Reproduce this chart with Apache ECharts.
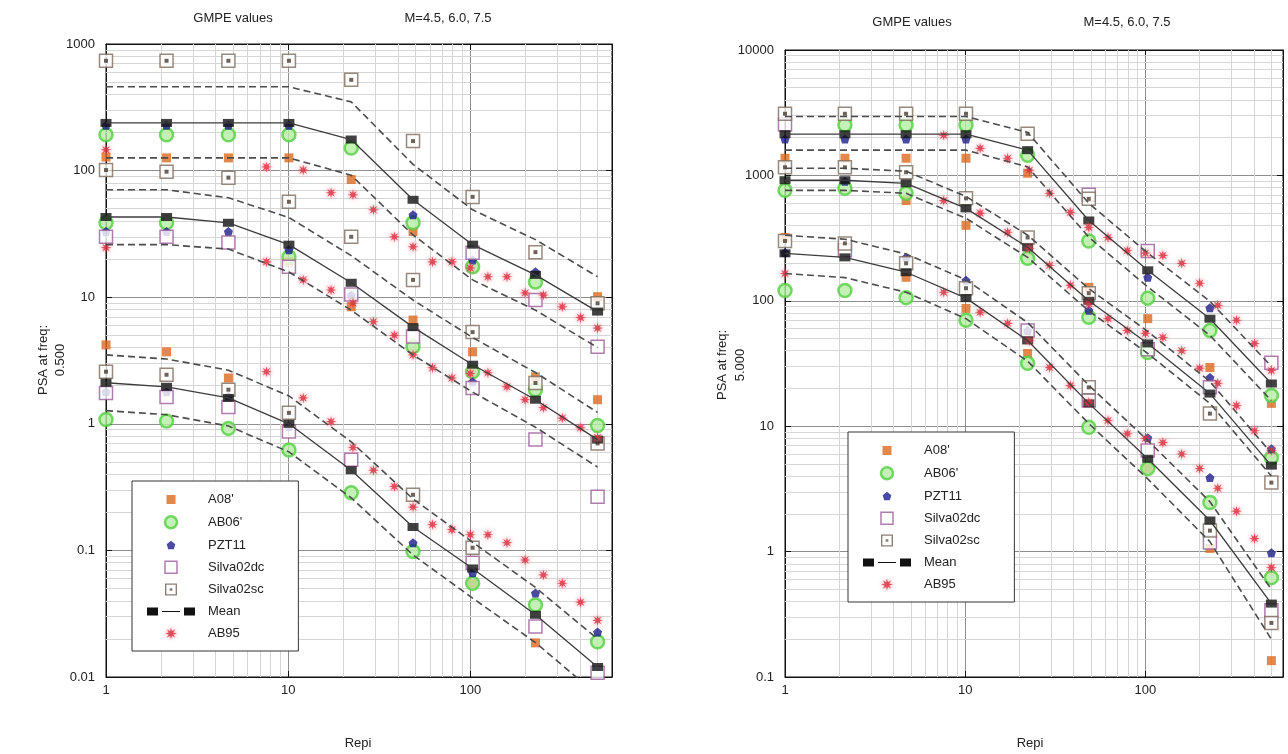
<!DOCTYPE html>
<html>
<head>
<meta charset="utf-8">
<script src="https://cdn.jsdelivr.net/npm/echarts@6/dist/echarts.min.js"></script>
<style>
  html, body { margin: 0; padding: 0; background: #fff; }
  #chart { width: 1288px; height: 754px; }
</style>
</head>
<body>
<div id="chart"></div>
<script>
// Epicentral distances (km) at which the GMPEs are evaluated
const distances = [1, 2.15, 4.7, 10.1, 22.2, 48.5, 103, 228, 500];
// AB95 is evaluated on its own distance list
const ab95Distances = [1, 7.6, 12.1, 17.2, 22.7, 29.4, 38.3, 48.5, 62, 79.3, 100, 125, 159, 200, 252, 320, 403, 500];

// ---- PSA at 0.500 Hz; rows are M7.5, M6.0, M4.5 ----
const f05_A08 = [
  [128, 126, 126, 126, 85, 33, null, null, 10.1],
  [null, null, null, 19, 8.4, 6.6, 3.7, 2.35, 1.55],
  [4.2, 3.7, 2.3, null, null, null, 0.055, 0.0186, null]
];
const f05_AB06 = [
  [192, 192, 192, 192, 151, 38.7, 17.4, 13.2, null],
  [38.7, 38.7, null, 20.8, null, 4.06, 2.58, 1.86, 0.97],
  [1.08, 1.05, 0.92, 0.62, 0.285, 0.098, 0.055, 0.037, 0.019]
];
const f05_PZT11 = [
  [228, 228, 228, 228, null, 44.8, 19.7, 15.9, null],
  [33, 33, 33, 23.7, 10.4, null, 2.15, null, null],
  [1.79, 1.79, 1.65, 0.95, null, 0.115, 0.0665, 0.046, 0.0227]
];
const f05_Silva02dc = [
  [null, null, null, null, null, null, 22.4, 9.5, 4.06],
  [30, 30, 27, 17.4, 10.5, 4.9, 1.92, 0.75, 0.265],
  [1.75, 1.63, 1.36, 0.87, 0.52, null, 0.08, 0.025, 0.0108]
];
const f05_Silva02sc = [
  [737, 737, 737, 737, 521, 171, 62, 22.7, 8.95],
  [101, 98, 88, 56.7, 30, 13.7, 5.3, 2.1, 0.7],
  [2.58, 2.44, 1.86, 1.22, null, 0.275, 0.105, null, null]
];
const f05_Mean = [
  [238, 238, 238, 238, 176, 58.8, 26, 15, 7.7],
  [43, 43, 38.7, 26, 13, 5.8, 2.93, 1.55, 0.75],
  [2.11, 1.96, 1.6, 1.0, 0.43, 0.153, 0.072, 0.031, 0.012]
];
const f05_Upper = [
  [459, 459, 459, 459, 349, 112, 49, 28.5, 14.5],
  [70.5, 70.5, 61, 42.6, 21.3, 9.5, 4.8, 2.54, 1.23],
  [3.5, 3.25, 2.65, 1.66, 0.72, 0.255, 0.116, 0.051, 0.02]
];
const f05_Lower = [
  [126, 126, 126, 126, 92, 31, 13.7, 7.9, 4.0],
  [26, 26, 24, 15.8, 7.9, 3.5, 1.78, 0.94, 0.455],
  [1.27, 1.18, 0.96, 0.6, 0.26, 0.092, 0.042, 0.0187, 0.0072]
];
const f05_AB95 = [
  [146, 107, 101, 66.8, 64.4, 49, 30, 25, 19, 19, 17, 14.5, 14.5, 10.8, 10.4, 8.4, 6.9, 5.7],
  [24.6, 19, 13.7, 11.4, 9.0, 6.4, 5.0, 3.5, 2.77, 2.3, 2.5, 2.53, 1.96, 1.55, 1.34, 1.11, 0.93, 0.78],
  [null, 2.58, 1.6, 1.04, 0.65, 0.43, 0.32, 0.22, 0.16, 0.146, 0.133, 0.133, 0.115, 0.084, 0.064, 0.055, 0.039, 0.028]
];

// ---- PSA at 5.000 Hz; rows are M7.5, M6.0, M4.5 ----
const f5_A08 = [
  [1370, 1370, 1370, 1370, 1040, null, null, null, 15.2],
  [null, null, 630, 400, null, 128, 72, 29.4, null],
  [320, null, 154, 87, 38, null, 4.6, 1.06, 0.135]
];
const f5_AB06 = [
  [null, 2520, 2520, 2520, 1450, 300, 105, 58, 17.6],
  [760, 790, 720, null, 218, 74, 38.7, null, 5.6],
  [121, 121, 106, 70, 31.7, 9.8, 4.6, 2.46, 0.62]
];
const f5_PZT11 = [
  [1950, 1950, 1950, 1950, null, null, 154, 88, null],
  [null, 900, null, null, null, 84, null, 24.5, 6.6],
  [243, null, 222, 146, 58, null, 8.1, 3.9, 0.98]
];
const f5_Silva02dc = [
  [2550, null, null, null, null, 700, 250, null, 32],
  [null, null, null, null, null, null, 41, 20.4, null],
  [null, 253, null, null, 58, 16, 6.4, 1.18, 0.34]
];
const f5_Silva02sc = [
  [3100, 3100, 3100, 3100, 2150, 650, null, null, null],
  [1160, 1160, 1060, 656, 320, 115, null, 12.6, 3.55],
  [300, 287, 199, 126, null, 20.4, null, 1.47, 0.27]
];
const f5_Mean = [
  [2130, 2130, 2130, 2130, 1590, 437, 175, 72, 21.9],
  [915, 915, 865, 546, 267, 100, 45.7, 18.2, 4.85],
  [239, 222, 169, 105, 48.3, 15.2, 5.5, 1.77, 0.385]
];
const f5_Upper = [
  [2950, 2950, 2950, 2950, 2200, 600, 240, 99, 30],
  [1140, 1140, 1080, 680, 334, 125, 57, 22.7, 6.1],
  [333, 310, 236, 147, 67, 21.2, 7.7, 2.5, 0.5]
];
const f5_Lower = [
  [1590, 1590, 1590, 1590, 1170, 322, 129, 53, 16],
  [760, 760, 720, 455, 222, 83, 38, 15.2, 4.0],
  [165, 153, 117, 72, 33, 10.5, 3.8, 1.2, 0.2]
];
const f5_AB95 = [
  [null, 2090, 1645, 1370, 1100, 720, 508, 385, 320, 251, 240, 230, 199, 138, 92, 70, 45.7, 27.8],
  [null, 630, 500, 352, 260, 192, 133, 95, 72, 58, 55, 51, 40, 29, 22, 14.6, 9.2, 6.4],
  [165, 117, 81, 66, 48, 29.4, 21.1, 15.5, 11.1, 8.7, 8.0, 7.4, 6.0, 4.6, 3.2, 2.1, 1.27, 0.745]
];

// Axis extents and labels
const xRange = [[1, 600], [1, 580]];
const yRange = [[0.01, 1000], [0.1, 10000]];
const freqLabels = ['0.500', '5.000'];

const FONT = 'Liberation Sans, Arial, sans-serif';
const STAR = 'path://M10,0L11.53,6.3L17.07,2.93L13.7,8.47L20,10L13.7,11.53L17.07,17.07L11.53,13.7L10,20L8.47,13.7L2.93,17.07L6.3,11.53L0,10L6.3,8.47L2.93,2.93L8.47,6.3Z';
const PENTA = 'path://M5,0L10,4.2L8.3,10L1.7,10L0,4.2Z';
// legend icons: leading/trailing move-tos pad the icon inside its 12px cell
const SQUARE_ICON = 'path://M-1.5,-1.5M0,0H9V9H0Z M10.5,10.5';
const PENTA_ICON = 'path://M-2,-2M5,0L10,4.2L8.3,10L1.7,10L0,4.2Z M12,12';
const BOX_ICON = 'path://M0,0H12V12H0Z';
const MEAN_ICON = 'path://M0,0H11V8H0Z M15,3.4H33V4.6H15Z M37,0H48V8H37Z';
const SC_ICON = 'path://M0,0H14V14H0Z M1.6,1.6V12.4H12.4V1.6Z M5.4,5.4H8.6V8.6H5.4Z';

const styles = {
  A08: { symbol: 'rect', symbolSize: 9, itemStyle: { color: '#dc6a1d' } },
  AB06: { symbol: 'circle', symbolSize: 13, itemStyle: { color: '#b4eea4', borderColor: '#52cf40', borderWidth: 2.5 } },
  PZT11: { symbol: PENTA, symbolSize: 9, itemStyle: { color: '#1d1d8c' } },
  dc: { symbol: 'rect', symbolSize: 13, itemStyle: { color: '#ffffff', borderColor: '#9b5b98', borderWidth: 1.5 } },
  sc: { symbol: 'rect', symbolSize: 13, itemStyle: { color: '#ffffff', borderColor: '#7e6c5c', borderWidth: 1.5 } },
  scDot: { symbol: 'rect', symbolSize: 4, itemStyle: { color: '#4a3c30' } },
  AB95: { symbol: STAR, symbolSize: 11, itemStyle: { color: '#d9303f', shadowBlur: 5, shadowColor: 'rgba(255,105,125,0.9)' } }
};

function rowsToPoints(xs, rows) {
  const out = [];
  rows.forEach(row => row.forEach((v, i) => { if (v != null) out.push([xs[i], v]); }));
  return out;
}
function rowToPoints(xs, row) {
  return row.map((v, i) => [xs[i], v]);
}

const panels = [
  { A08: f05_A08, AB06: f05_AB06, PZT11: f05_PZT11, dc: f05_Silva02dc, sc: f05_Silva02sc, mean: f05_Mean, up: f05_Upper, lo: f05_Lower, ab95: f05_AB95 },
  { A08: f5_A08, AB06: f5_AB06, PZT11: f5_PZT11, dc: f5_Silva02dc, sc: f5_Silva02sc, mean: f5_Mean, up: f5_Upper, lo: f5_Lower, ab95: f5_AB95 }
];

function minorValues(lo, hi) {
  const vals = [];
  for (let d = lo; d < hi; d *= 10) {
    for (let k = 2; k <= 9; k++) { const v = +(d * k).toPrecision(6); if (v < hi) vals.push(v); }
  }
  return vals;
}

const series = [];
panels.forEach((p, g) => {
  const base = { xAxisIndex: g, yAxisIndex: g, silent: true, animation: false };
  // light minor grid lines at 2..9 of each decade
  series.push(Object.assign({}, base, {
    type: 'line', name: 'grid', data: [], showSymbol: false,
    markLine: {
      silent: true, animation: false, z: 1, symbol: ['none', 'none'],
      label: { show: false }, emphasis: { disabled: true },
      lineStyle: { color: '#d6d6d6', width: 1, type: 'solid' },
      data: minorValues(xRange[g][0], xRange[g][1]).map(v => ({ xAxis: v }))
        .concat(minorValues(yRange[g][0], yRange[g][1]).map(v => ({ yAxis: v })))
    }
  }));
  // mean +/- one sigma
  [p.up, p.lo].forEach(rows => rows.forEach(row => series.push(Object.assign({}, base, {
    type: 'line', name: 'sigma', data: rowToPoints(distances, row), symbol: 'none',
    lineStyle: { color: '#4d4d4d', width: 1.6, type: [7, 4] }
  }))));
  // mean lines
  p.mean.forEach(row => series.push(Object.assign({}, base, {
    type: 'line', name: 'Mean', data: rowToPoints(distances, row), symbol: 'none',
    lineStyle: { color: '#3c3c3c', width: 1.3 }
  })));
  const scat = (name, key, rows, xs) => series.push(Object.assign({}, base, styles[key], {
    type: 'scatter', name: name, data: rowsToPoints(xs || distances, rows)
  }));
  scat("A08'", 'A08', p.A08);
  scat("AB06'", 'AB06', p.AB06);
  scat('PZT11', 'PZT11', p.PZT11);
  scat('Silva02dc', 'dc', p.dc);
  scat('Silva02sc', 'sc', p.sc);
  scat('Silva02sc', 'scDot', p.sc);
  series.push(Object.assign({}, base, {
    type: 'scatter', name: 'Mean', symbol: 'rect', symbolSize: [11, 8],
    itemStyle: { color: '#111' }, data: rowsToPoints(distances, p.mean)
  }));
  scat('AB95', 'AB95', p.ab95, ab95Distances);
});

const legendItems = [
  { name: "A08'", icon: SQUARE_ICON, itemStyle: { color: '#dc6a1d', borderWidth: 0 } },
  { name: "AB06'", icon: 'circle', itemStyle: { color: '#b4eea4', borderColor: '#52cf40', borderWidth: 2.5 } },
  { name: 'PZT11', icon: PENTA_ICON, itemStyle: { color: '#1d1d8c', borderWidth: 0 } },
  { name: 'Silva02dc', icon: BOX_ICON, itemStyle: { color: '#ffffff', borderColor: '#9b5b98', borderWidth: 1.5 } },
  { name: 'Silva02sc', icon: SC_ICON, itemStyle: { color: '#6e5e50', borderWidth: 0 } },
  { name: 'Mean', icon: MEAN_ICON, itemStyle: { color: '#111', borderWidth: 0 } },
  { name: 'AB95', icon: STAR, itemStyle: { color: '#d9303f', borderWidth: 0, shadowBlur: 4, shadowColor: 'rgba(255,105,125,0.9)' } }
];
const legendCommon = {
  orient: 'vertical', data: legendItems, itemWidth: 48, itemHeight: 12, itemGap: 9,
  padding: [12, 34, 11, 15], borderColor: '#333', borderWidth: 1, backgroundColor: '#fff',
  selectedMode: false, z: 10,
  textStyle: { fontSize: 13, fontFamily: FONT, color: '#222', padding: [0, 0, 0, 8] }
};

const labelFmt = v => String(Number(Number(v).toPrecision(6)));
const axisCommon = {
  type: 'log', logBase: 10,
  axisLine: { show: true, lineStyle: { color: '#111', width: 1 } },
  axisTick: { show: true, inside: true, length: 6, lineStyle: { color: '#111' } },
  splitLine: { show: true, lineStyle: { color: '#8e8e8e', width: 1 } },
  axisLabel: { fontSize: 13, fontFamily: FONT, color: '#222', formatter: labelFmt }
};
// mirrored axes on the top and right edges: ticks only
const mirrorAxis = {
  type: 'log', logBase: 10,
  axisLine: { show: true, lineStyle: { color: '#111', width: 1 } },
  axisTick: { show: true, inside: true, length: 6, lineStyle: { color: '#111' } },
  splitLine: { show: false },
  axisLabel: { show: false }
};

const grids = [
  { left: 106, top: 44, width: 506, height: 633 },
  { left: 785, top: 50, width: 498, height: 627 }
];

const texts = [];
function txt(s, x, y, rot) {
  texts.push({
    type: 'text', x: x, y: y, rotation: rot || 0, silent: true,
    style: { text: s, font: '13px ' + FONT, fill: '#222', textAlign: 'center', textVerticalAlign: 'middle', align: 'center', verticalAlign: 'middle' }
  });
}
txt('GMPE values', 233, 18);
txt('M=4.5, 6.0, 7.5', 448, 18);
txt('GMPE values', 912, 22);
txt('M=4.5, 6.0, 7.5', 1127, 22);
txt('Repi', 358, 743);
txt('Repi', 1030, 743);
txt('PSA at freq:', 43, 360, Math.PI / 2);
txt(freqLabels[0], 60, 360, Math.PI / 2);
txt('PSA at freq:', 722, 365, Math.PI / 2);
txt(freqLabels[1], 740, 365, Math.PI / 2);

const option = {
  animation: false,
  backgroundColor: '#fff',
  grid: grids.map(g => Object.assign({ show: true, borderColor: '#111', borderWidth: 1, backgroundColor: 'transparent' }, g)),
  xAxis: [0, 1].map(g => Object.assign({}, axisCommon, {
    gridIndex: g, min: xRange[g][0], max: xRange[g][1],
    axisLabel: Object.assign({}, axisCommon.axisLabel, { margin: 7, showMaxLabel: false })
  })).concat([0, 1].map(g => Object.assign({}, mirrorAxis, {
    gridIndex: g, position: 'top', min: xRange[g][0], max: xRange[g][1]
  }))),
  yAxis: [0, 1].map(g => Object.assign({}, axisCommon, {
    gridIndex: g, min: yRange[g][0], max: yRange[g][1],
    axisLabel: Object.assign({}, axisCommon.axisLabel, { margin: 11 })
  })).concat([0, 1].map(g => Object.assign({}, mirrorAxis, {
    gridIndex: g, position: 'right', min: yRange[g][0], max: yRange[g][1]
  }))),
  legend: [
    Object.assign({ left: 132, top: 481 }, legendCommon),
    Object.assign({ left: 848, top: 432 }, legendCommon)
  ],
  graphic: texts,
  series: series
};

const chart = echarts.init(document.getElementById('chart'), null, { renderer: 'canvas' });
chart.setOption(option);
</script>
</body>
</html>
